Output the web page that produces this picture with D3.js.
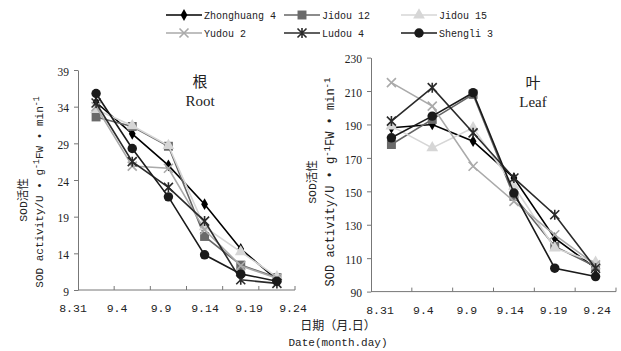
<!DOCTYPE html>
<html>
<head>
<meta charset="utf-8">
<script src="https://cdn.jsdelivr.net/npm/d3@7"></script>
<style>
  body { margin: 0; background: #fff; }
  svg { display: block; }
  .mono { font-family: "Liberation Mono", "DejaVu Sans Mono", monospace; }
  .serif { font-family: "Liberation Serif", "DejaVu Serif", serif; }
</style>
</head>
<body>
<script>
// sampling points (6 per variety)
const categories = ['s1', 's2', 's3', 's4', 's5', 's6'];
const dateLabels = ['8.31', '9.4', '9.9', '9.14', '9.19', '9.24'];
const seriesNames = ['Zhonghuang 4', 'Jidou 12', 'Jidou 15', 'Yudou 2', 'Ludou 4', 'Shengli 3'];

// root SOD activity, one row per variety (same order as seriesNames)
const rootValues = [
  [34.6, 30.3, 26.0, 20.7, 14.6, 10.4],
  [32.6, 31.3, 28.6, 16.3, 12.4, 10.7],
  [33.6, 31.4, 28.7, 17.6, 14.2, 10.8],
  [34.0, 25.9, 25.6, 17.2, 12.3, 10.6],
  [34.5, 26.5, 23.0, 18.4, 10.4, 9.9],
  [35.8, 28.3, 21.7, 13.8, 11.2, 10.2]
];
const rootTicks = [9, 14, 19, 24, 29, 34, 39];

// leaf SOD activity
const leafValues = [
  [188, 190, 180, 158, 122, 104],
  [178, 193, 208, 147, 117, 105],
  [189, 176, 188, 153, 116, 107.5],
  [215, 201, 165, 144, 124, 106],
  [192, 212, 185, 158, 136, 104],
  [182, 195, 209, 149, 104, 99]
];
const leafTicks = [90, 110, 130, 150, 170, 190, 210, 230];

const lineColors = ['#000', '#666', '#d6d6d6', '#aaa', '#2a2a2a', '#1a1a1a'];
const markerColors = ['#000', '#6a6a6a', '#d6d6d6', '#aaa', '#2a2a2a', '#1a1a1a'];
const markerTypes = ['diamond', 'square', 'triangle', 'x', 'star', 'circle'];

const W = 621, H = 351;
const svg = d3.select('body').append('svg').attr('width', W).attr('height', H);

function markerPath(type) {
  switch (type) {
    case 'diamond': return d3.symbol(d3.symbolDiamond, 40)();
    case 'square': return d3.symbol(d3.symbolSquare, 80)();
    case 'triangle': return d3.symbol(d3.symbolTriangle, 60)();
    case 'circle': return d3.symbol(d3.symbolCircle, 70)();
    case 'x': return 'M-4.5,-4.5L4.5,4.5M-4.5,4.5L4.5,-4.5';
    case 'star': return 'M-4.5,-4.5L4.5,4.5M-4.5,4.5L4.5,-4.5M0,-5L0,5';
  }
}

function drawMarker(g, type, color) {
  const stroked = type === 'x' || type === 'star';
  g.append('path')
    .attr('d', markerPath(type))
    .attr('fill', stroked ? 'none' : color)
    .attr('stroke', stroked ? color : 'none')
    .attr('stroke-width', stroked ? 1.6 : 0);
}

function drawPanel(cfg) {
  const x = d3.scaleBand().domain(categories).range([cfg.x0, cfg.x1]).padding(0);
  const y = d3.scaleLinear().domain(cfg.domain).range([cfg.y1, cfg.y0]);
  const g = svg.append('g');

  // y axis
  const yAxis = g.append('g')
    .attr('transform', `translate(${cfg.x0},0)`)
    .call(d3.axisLeft(y).tickValues(cfg.ticks).tickSize(4).tickSizeOuter(0).tickPadding(5));
  yAxis.select('.domain').attr('stroke', '#777');
  yAxis.selectAll('.tick line').attr('stroke', '#777');
  yAxis.selectAll('.tick text')
    .attr('class', 'serif')
    .attr('font-size', 11.5)
    .attr('fill', '#222')
    .attr('dy', '0.45em');

  // x axis: tick marks on category boundaries, inward
  const bounds = categories.map(c => x(c) + x.bandwidth());
  g.append('line')
    .attr('x1', cfg.x0).attr('x2', cfg.x1)
    .attr('y1', cfg.y1).attr('y2', cfg.y1)
    .attr('stroke', '#777');
  g.selectAll('.xt').data(bounds).enter().append('line')
    .attr('x1', d => d).attr('x2', d => d)
    .attr('y1', cfg.y1).attr('y2', cfg.y1 - 4)
    .attr('stroke', '#777');

  // date labels, spread evenly along the axis
  const lx = d3.scalePoint().domain(dateLabels).range(cfg.labelRange);
  g.selectAll('.xl').data(dateLabels).enter().append('text')
    .attr('class', 'mono')
    .attr('x', d => lx(d))
    .attr('y', cfg.y1 + 22)
    .attr('text-anchor', 'middle')
    .attr('font-size', 11.5)
    .attr('fill', '#222')
    .text(d => d);

  // series
  const line = d3.line()
    .x((d, i) => x(categories[i]) + x.bandwidth() / 2)
    .y(d => y(d));
  cfg.values.forEach((vals, s) => {
    g.append('path')
      .datum(vals)
      .attr('d', line)
      .attr('fill', 'none')
      .attr('stroke', lineColors[s])
      .attr('stroke-width', 1.6);
    vals.forEach((v, i) => {
      const m = g.append('g')
        .attr('transform', `translate(${x(categories[i]) + x.bandwidth() / 2},${y(v)})`);
      drawMarker(m, markerTypes[s], markerColors[s]);
    });
  });

  // panel title
  g.append('text').attr('x', cfg.titleX).attr('y', cfg.titleY)
    .attr('text-anchor', 'middle').attr('font-size', 15)
    .attr('font-family', '"Noto Sans CJK SC", sans-serif').attr('fill', '#222')
    .text(cfg.titleCn);
  g.append('text').attr('x', cfg.titleX).attr('y', cfg.titleY + 19)
    .attr('text-anchor', 'middle').attr('font-size', 15)
    .attr('class', 'serif').attr('fill', '#222')
    .text(cfg.titleEn);

  // y titles
  g.append('text')
    .attr('transform', `translate(${cfg.yt1x},${cfg.yt1y}) rotate(-90)`)
    .attr('text-anchor', 'middle')
    .attr('font-size', 11.5)
    .attr('font-family', '"Liberation Mono", "Noto Sans CJK SC", monospace')
    .attr('fill', '#222')
    .text('SOD活性');
  const t2 = g.append('text')
    .attr('transform', `translate(${cfg.yt2x},${cfg.yt2y}) rotate(-90)`)
    .attr('text-anchor', 'middle')
    .attr('class', 'mono')
    .attr('font-size', cfg.ytSize)
    .attr('fill', '#222');
  t2.append('tspan').text('SOD activity/U • g');
  t2.append('tspan').attr('dy', -4).attr('font-size', cfg.ytSize * 0.75).text('-1');
  t2.append('tspan').attr('dy', 4).text('FW • min');
  t2.append('tspan').attr('dy', -4).attr('font-size', cfg.ytSize * 0.75).text('-1');
}

drawPanel({
  x0: 78, x1: 295, y0: 70, y1: 290,
  domain: [9, 39], ticks: rootTicks, values: rootValues,
  labelRange: [73, 293],
  titleX: 200, titleY: 87, titleCn: '根', titleEn: 'Root',
  yt1x: 27, yt1y: 200, yt2x: 43, yt2y: 192, ytSize: 11
});

drawPanel({
  x0: 371, x1: 616, y0: 57.6, y1: 291.6,
  domain: [90, 230], ticks: leafTicks, values: leafValues,
  labelRange: [380, 597],
  titleX: 533, titleY: 88, titleCn: '叶', titleEn: 'Leaf',
  yt1x: 316, yt1y: 182, yt2x: 334, yt2y: 182, ytSize: 12
});

// shared x title
svg.append('text').attr('x', 338).attr('y', 330)
  .attr('text-anchor', 'middle').attr('font-size', 12)
  .attr('font-family', '"Noto Sans CJK SC", sans-serif').attr('fill', '#222')
  .text('日期（月.日）');
svg.append('text').attr('x', 338).attr('y', 346)
  .attr('text-anchor', 'middle').attr('font-size', 11)
  .attr('class', 'mono').attr('fill', '#222')
  .text('Date(month.day)');

// legend
const legendCx = [184, 302, 419];
const legend = svg.append('g');
seriesNames.forEach((name, s) => {
  const cx = legendCx[s % 3];
  const cy = s < 3 ? 15 : 33;
  legend.append('line')
    .attr('x1', cx - 18).attr('x2', cx + 18).attr('y1', cy).attr('y2', cy)
    .attr('stroke', lineColors[s]).attr('stroke-width', 1.6);
  const m = legend.append('g').attr('transform', `translate(${cx},${cy})`);
  drawMarker(m, markerTypes[s], markerColors[s]);
  legend.append('text')
    .attr('class', 'mono')
    .attr('x', cx + 20).attr('y', cy + 4)
    .attr('font-size', 10).attr('fill', '#222')
    .text(name);
});
</script>
</body>
</html>
